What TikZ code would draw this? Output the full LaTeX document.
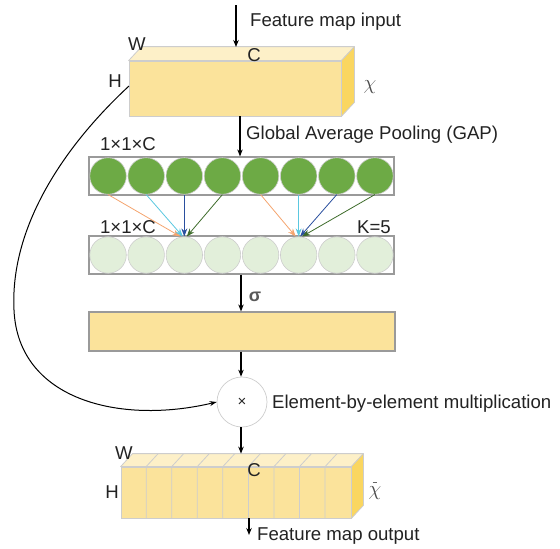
\documentclass[tikz,border=0pt]{standalone}
\usepackage{fontspec}
\setmainfont{Liberation Sans}
\usetikzlibrary{arrows.meta,calc}
\definecolor{txt}{HTML}{222222}
\definecolor{faceF}{HTML}{FBE39B}
\definecolor{faceT}{HTML}{FDF0C8}
\definecolor{faceR}{HTML}{FAD660}
\definecolor{edgeC}{HTML}{CDCDCD}
\definecolor{frameC}{HTML}{9A9A9A}
\definecolor{gDark}{HTML}{6DAA45}
\definecolor{gLight}{HTML}{E2EFDA}
\definecolor{aOrange}{HTML}{F4A46E}
\definecolor{aCyan}{HTML}{5BC8E0}
\definecolor{aBlue}{HTML}{2A4F9E}
\definecolor{aGreen}{HTML}{3D6B2A}
\tikzset{
  lbl/.style={font=\fontsize{18.6}{21}\selectfont, text=txt, inner sep=0pt},
  flow/.style={draw=black, line width=1.1pt, -{Stealth[length=7pt,width=5.5pt]}},
  link/.style={line width=0.8pt, -{Stealth[length=8pt,width=6pt]}},
  front/.style={draw=edgeC, fill=faceF, line width=0.8pt, inner sep=0pt},
  side/.style={draw=edgeC, line width=0.8pt, line join=round},
  bar/.style={draw=frameC, line width=1.2pt, inner sep=0pt, minimum width=305pt, minimum height=38pt},
  cell/.style={circle, draw=edgeC, line width=0.6pt, minimum size=36.5pt, inner sep=0pt},
}
\begin{document}
\begin{tikzpicture}[x=1pt,y=-1pt]
\useasboundingbox (0,0) rectangle (560,549);

% ---- input feature map (box) ----
\node[front, minimum width=212pt, minimum height=55pt] (inF) at (235,88.5) {};
\path[side, fill=faceT] (inF.north west) -- ++(13,-14) -- ($(inF.north east)+(13,-14)$) -- (inF.north east) -- cycle;
\path[side, fill=faceR] (inF.north east) -- ++(13,-14) -- ($(inF.south east)+(13,-14)$) -- (inF.south east) -- cycle;
\node[lbl] (inW) at (137,44) {W};
\node[lbl] (inC) at (254,55) {C};
\node[lbl] (inH) at (115,81) {H};
\node[lbl, text=black!70, font=\fontsize{20}{20}\selectfont] (inX) at (370,87) {$\chi$};

\coordinate (inTop) at (236,5);
\coordinate (inHit) at (236,47);
\draw[flow] (inTop) -- (inHit);
\node[lbl, anchor=west] (inTxt) at (250,22) {Feature map input};

% ---- GAP bar ----
\node[bar] (gap) at (241.5,176) {};
\foreach \i in {1,...,8}
  \node[cell, fill=gDark] (g\i) at ({89+19.06+38.125*(\i-1)},176) {};
\node[lbl] (gapDim) at (128,144) {1×1×C};
\draw[flow] (inF.south -| 240,0) -- (gap.north -| 240,0);
\node[lbl, anchor=west] (gapTxt) at (246,135) {Global Average Pooling (GAP)};

% ---- 1D convolution output bar ----
\node[bar] (conv) at (241.5,255) {};
\foreach \i in {1,...,8}
  \node[cell, fill=gLight] (l\i) at ({89+19.06+38.125*(\i-1)},255) {};
\node[lbl] (convDim) at (128,227) {1×1×C};
\node[lbl] (kTxt) at (374,227) {K=5};

% neighbouring channels feeding one output channel (two examples)
\draw[link, draw=aOrange] (g1.south) -- ($(l3.north)+(-4,0)$);
\draw[link, draw=aCyan]   (g2.south) -- ($(l3.north)+(-1.5,0)$);
\draw[link, draw=aBlue]   (g3.south) -- ($(l3.north)+(0,0)$);
\draw[link, draw=aGreen]  (g4.south) -- ($(l3.north)+(2.5,0)$);
\draw[link, draw=aOrange] (g5.south) -- ($(l6.north)+(-3,0)$);
\draw[link, draw=aCyan]   (g6.south) -- ($(l6.north)+(0,0)$);
\draw[link, draw=aBlue]   (g7.south) -- ($(l6.north)+(1.5,0)$);
\draw[link, draw=aGreen]  (g8.south) -- ($(l6.north)+(3.5,0)$);

% ---- sigmoid weights ----
\node[bar, fill=faceF, minimum width=306pt, minimum height=39pt] (sig) at (242,331.5) {};
\draw[flow] (conv.south -| 241,0) -- (sig.north -| 241,0);
\node[lbl, text=black!65, font=\fontsize{18}{20}\selectfont\bfseries] (sigTxt) at (255,297) {σ};

% ---- multiplication ----
\node[circle, draw=edgeC, line width=0.7pt, minimum size=50pt, inner sep=0pt, font=\fontsize{15}{16}\selectfont, text=txt] (mul) at (242,402) {×};
\draw[flow] (sig.south -| 241,0) -- (mul.north -| 241,0);
\node[lbl, anchor=west] (mulTxt) at (272,404) {Element-by-element multiplication};

\coordinate (skip) at (129,86);
\draw[line width=1pt, -{Stealth[length=7pt,width=5pt]}] (skip) .. controls (60,150) and (10,230) .. (14,310) .. controls (18,400) and (120,425) .. (mul.west);

% ---- output feature map (sliced box) ----
\node[front, minimum width=230pt, minimum height=51pt] (outF) at (236,492.5) {};
\path[side, fill=faceT] (outF.north west) -- ++(12,-13) -- ($(outF.north east)+(12,-13)$) -- (outF.north east) -- cycle;
\path[side, fill=faceR] (outF.north east) -- ++(12,-13) -- ($(outF.south east)+(12,-13)$) -- (outF.south east) -- cycle;
\foreach \k in {1,...,8}
  \draw[edgeC, line width=0.8pt] ($(outF.south west)+({25.56*\k},0)$) -- ($(outF.north west)+({25.56*\k},0)$) -- ++(12,-13);
\node[lbl] (outW) at (124,453) {W};
\node[lbl] (outC) at (254,470) {C};
\node[lbl] (outH) at (112,492) {H};
\node[lbl, text=black!70, font=\fontsize{20}{20}\selectfont] (outX) at (375,493) {$\chi$};
\draw[black!60, line width=0.8pt] ($(outX.north)+(-2.5,-4)$) -- ++(4,0);

\draw[flow] (mul.south -| 241,0) -- ($(outF.north -| 241,0)+(0,-13)$);
\coordinate (outEnd) at (249,535);
\draw[flow] (outF.south -| 249,0) -- (outEnd);
\node[lbl, anchor=west] (outTxt) at (257,536) {Feature map output};
\end{tikzpicture}
\end{document}
